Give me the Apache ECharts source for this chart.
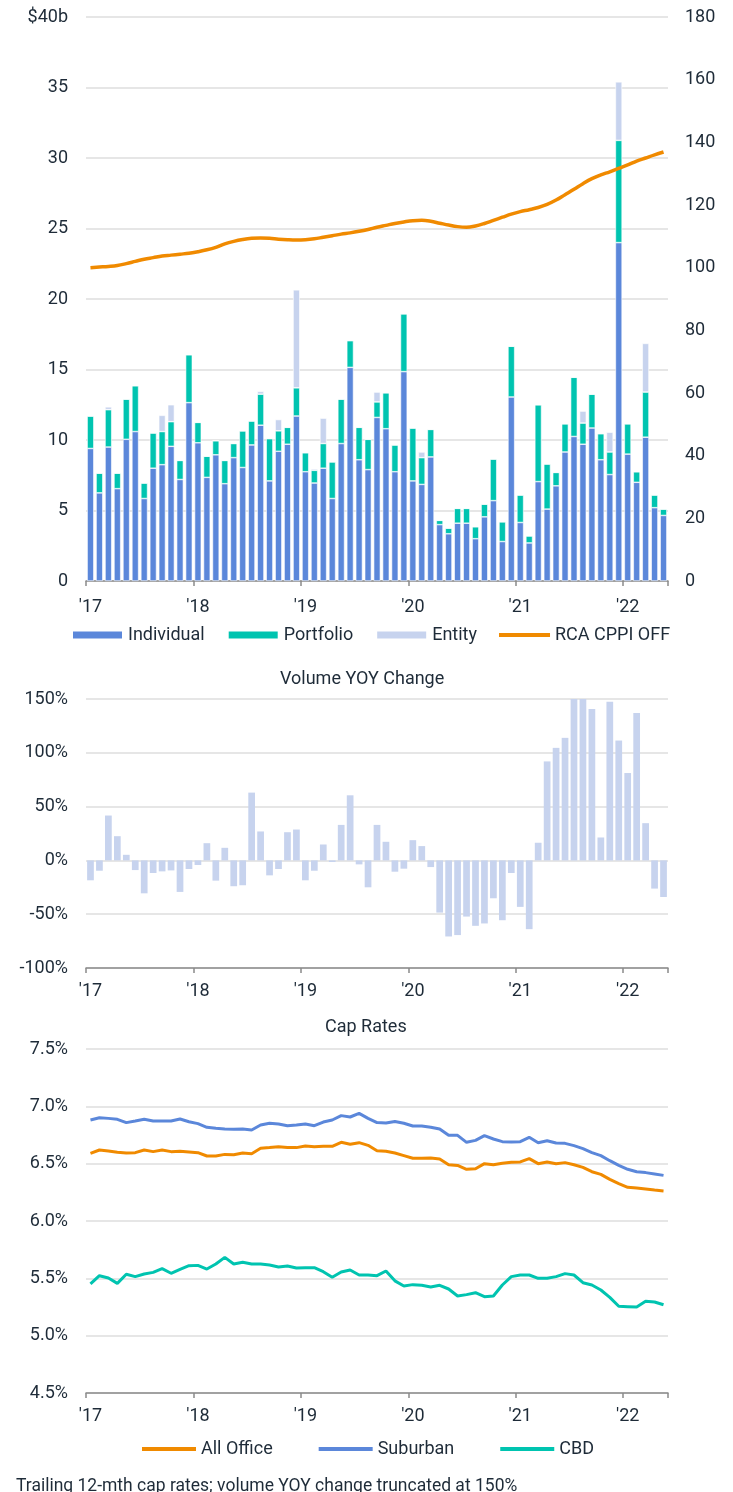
<!DOCTYPE html>
<html><head><meta charset="utf-8">
<script src="https://cdn.jsdelivr.net/npm/echarts@6/dist/echarts.min.js"></script>
<style>html,body{margin:0;padding:0;background:#fff}#c{width:733px;height:1492px}</style>
</head><body><div id="c"></div>
<script>
const months = [
 'Jan 17','Feb 17','Mar 17','Apr 17','May 17','Jun 17','Jul 17','Aug 17','Sep 17','Oct 17','Nov 17','Dec 17',
 'Jan 18','Feb 18','Mar 18','Apr 18','May 18','Jun 18','Jul 18','Aug 18','Sep 18','Oct 18','Nov 18','Dec 18',
 'Jan 19','Feb 19','Mar 19','Apr 19','May 19','Jun 19','Jul 19','Aug 19','Sep 19','Oct 19','Nov 19','Dec 19',
 'Jan 20','Feb 20','Mar 20','Apr 20','May 20','Jun 20','Jul 20','Aug 20','Sep 20','Oct 20','Nov 20','Dec 20',
 'Jan 21','Feb 21','Mar 21','Apr 21','May 21','Jun 21','Jul 21','Aug 21','Sep 21','Oct 21','Nov 21','Dec 21',
 'Jan 22','Feb 22','Mar 22','Apr 22','May 22'];
const yearLabels = ["'17","'18","'19","'20","'21","'22"];

// Deal volume, $b
const individual = [9.4,6.25,9.5,6.55,10.05,10.6,5.85,8.0,8.25,9.55,7.2,12.65,
 9.8,7.35,8.95,6.9,8.75,8.05,9.65,11.05,7.1,9.2,9.7,11.7,
 7.75,6.95,8.0,5.85,9.75,15.15,8.6,7.9,11.6,10.8,7.75,14.85,
 7.1,6.85,8.8,4.0,3.35,4.1,4.1,3.0,4.55,5.7,2.8,13.05,
 4.15,2.7,7.05,5.1,6.75,9.15,10.25,9.7,10.85,8.6,7.55,24.0,
 9.0,7.0,10.2,5.2,4.65];
const portfolio = [2.3,1.4,2.65,1.1,2.85,3.25,1.1,2.5,2.35,1.75,1.35,3.4,
 1.45,1.5,1.0,1.65,1.0,2.6,1.7,2.2,3.0,1.45,1.2,2.0,
 1.35,0.9,1.75,2.6,3.15,1.9,2.3,2.15,1.1,2.55,1.9,4.1,
 3.75,1.9,1.95,0.3,0.4,1.05,1.05,0.85,0.9,2.95,1.4,3.6,
 1.95,0.5,5.45,3.2,0.95,2.0,4.2,1.5,2.4,1.85,1.6,7.25,
 2.15,0.75,3.2,0.9,0.45];
const entity = [0,0,0.2,0,0,0,0,0,1.15,1.2,0,0,
 0,0,0,0,0,0,0,0.2,0,0.8,0,6.95,
 0,0.1,1.8,0,0,0,0,0,0.7,0,0,0,
 0,0.4,0,0,0,0,0,0,0,0,0,0,
 0,0,0,0,0,0,0,0.85,0,0,1.4,4.15,
 0,0,3.45,0,0];
// RCA CPPI Office index
const cppi = [100.0,100.2,100.4,100.7,101.3,102.0,102.7,103.2,103.7,104.0,104.3,104.6,
 105.1,105.7,106.5,107.6,108.4,109.0,109.4,109.5,109.4,109.1,108.9,108.8,
 108.9,109.2,109.7,110.2,110.7,111.1,111.6,112.2,112.9,113.5,114.1,114.6,
 115.0,115.1,114.8,114.2,113.6,113.1,112.9,113.3,114.1,115.1,116.1,117.1,
 117.9,118.5,119.2,120.2,121.6,123.3,125.0,126.8,128.4,129.6,130.6,131.7,
 132.8,134.0,135.0,136.0,136.9];
// Volume YOY change, % (truncated at 150)
const yoy = [-18.5,-9.6,41.7,22.5,5.2,-9,-30.6,-11.7,-10.2,-9.3,-29.3,-8,
 -4.3,16,-18.8,11.7,-24,-23.1,63,26.9,-13.9,-8,26.2,28.7,
 -18.5,-9.6,14.8,-1.5,33,60.5,-3.7,-25,33,17.3,-10.5,-7.7,
 18.8,13.3,-6.2,-48.5,-70.7,-69.4,-52.2,-60.8,-58.6,-35.2,-55.6,-11.7,
 -43.2,-63.9,16.4,92,104.6,113.9,150,150,140.7,21.3,147.5,111.4,
 81.2,137,34.6,-26.2,-34];
// Trailing 12-month cap rates, %
const allOffice = [6.59,6.619,6.61,6.599,6.593,6.596,6.619,6.605,6.619,6.605,6.608,6.602,
 6.596,6.567,6.567,6.581,6.578,6.593,6.587,6.634,6.64,6.648,6.64,6.64,
 6.654,6.648,6.651,6.651,6.686,6.669,6.683,6.66,6.612,6.609,6.593,6.57,
 6.547,6.547,6.549,6.541,6.491,6.485,6.451,6.456,6.5,6.491,6.503,6.512,
 6.515,6.544,6.5,6.515,6.5,6.509,6.491,6.468,6.43,6.407,6.363,6.326,
 6.294,6.288,6.279,6.27,6.262];
const suburban = [6.881,6.901,6.895,6.887,6.858,6.872,6.887,6.872,6.872,6.872,6.89,6.866,
 6.849,6.817,6.808,6.802,6.8,6.802,6.794,6.837,6.852,6.846,6.831,6.837,
 6.846,6.831,6.863,6.881,6.919,6.907,6.939,6.895,6.858,6.855,6.868,6.852,
 6.828,6.828,6.817,6.802,6.747,6.747,6.686,6.703,6.744,6.715,6.692,6.689,
 6.692,6.73,6.683,6.7,6.68,6.677,6.657,6.631,6.596,6.57,6.526,6.485,
 6.451,6.43,6.422,6.41,6.398];
const cbd = [5.451,5.523,5.503,5.456,5.535,5.515,5.538,5.552,5.584,5.544,5.578,5.61,
 5.613,5.581,5.625,5.683,5.625,5.64,5.625,5.625,5.616,5.599,5.608,5.59,
 5.593,5.593,5.558,5.509,5.555,5.573,5.529,5.529,5.523,5.564,5.478,5.433,
 5.445,5.439,5.424,5.439,5.407,5.346,5.358,5.375,5.34,5.346,5.442,5.515,
 5.529,5.529,5.5,5.5,5.515,5.541,5.529,5.462,5.442,5.398,5.334,5.256,
 5.253,5.25,5.3,5.294,5.27];

const COL = {ind:'#5B87DA', port:'#00C4B0', ent:'#C7D3EE', orange:'#F08A00',
  text:'#1E2B38', grid:'#DEDEDE', axis:'#8A8A8A'};
const FONT = 'Roboto';
const LINE_ICON = 'path://M0,0H54V4H0Z';
const lbl = (extra) => Object.assign({color: COL.text, fontSize: 18, fontFamily: FONT}, extra || {});
const yearFmt = (v, i) => yearLabels[Math.round(i / 12)] || '';

function catAxis(grid, opts) {
  return Object.assign({
    type: 'category', gridIndex: grid, data: months, boundaryGap: true,
    axisLine: {show: true, onZero: false, lineStyle: {color: COL.axis, width: 1.5}},
    axisTick: {show: true, interval: 11, length: 5, lineStyle: {color: COL.axis, width: 1.5}},
    axisLabel: lbl({interval: 11, formatter: yearFmt, margin: 14}),
    splitLine: {show: false}
  }, opts);
}

const chart = echarts.init(document.getElementById('c'), null, {renderer: 'canvas'});
chart.setOption({
  animation: false,
  backgroundColor: '#fff',
  textStyle: {fontFamily: FONT},
  title: [
    {text: 'Volume YOY Change', left: 275, top: 665, textStyle: lbl({fontWeight: 'normal'})},
    {text: 'Cap Rates', left: 320, top: 1013, textStyle: lbl({fontWeight: 'normal'})}
  ],
  legend: [
    {left: 66, top: 621, itemWidth: 51, itemHeight: 9, itemGap: 22, symbolKeepAspect: true, textStyle: lbl(),
     data: [{name: 'Individual', icon: 'rect'}, {name: 'Portfolio', icon: 'rect'},
            {name: 'Entity', icon: 'rect'}, {name: 'RCA CPPI OFF', icon: LINE_ICON}]},
    {left: 137, top: 1435, itemWidth: 54, itemHeight: 9, itemGap: 46, symbolKeepAspect: true, textStyle: lbl(),
     data: [{name: 'All Office', icon: LINE_ICON}, {name: 'Suburban', icon: LINE_ICON}, {name: 'CBD', icon: LINE_ICON}]}
  ],
  grid: [
    {left: 86, width: 582, top: 17, height: 564},
    {left: 86, width: 582, top: 699, height: 269},
    {left: 86, width: 582, top: 1049, height: 344}
  ],
  xAxis: [
    catAxis(0, {axisLabel: lbl({interval: 11, formatter: yearFmt, margin: 17})}),
    catAxis(1, {axisLine: {show: false}, axisTick: {show: false}}),
    catAxis(1, {position: 'bottom', axisLine: {show: true, onZero: true, lineStyle: {color: COL.axis, width: 1.5}},
                axisLabel: {show: false}}),
    catAxis(2, {})
  ],
  yAxis: [
    {type: 'value', gridIndex: 0, min: 0, max: 40, interval: 5, position: 'left',
     axisLine: {show: false}, axisTick: {show: false},
     splitLine: {lineStyle: {color: COL.grid, width: 1.5}},
     axisLabel: lbl({margin: 18, formatter: v => v === 40 ? '$40b' : String(v)})},
    {type: 'value', gridIndex: 0, min: 0, max: 180, interval: 20, position: 'right',
     axisLine: {show: false}, axisTick: {show: false}, splitLine: {show: false},
     axisLabel: lbl({margin: 17})},
    {type: 'value', gridIndex: 1, min: -100, max: 150, interval: 50,
     axisLine: {show: false}, axisTick: {show: false},
     splitLine: {lineStyle: {color: COL.grid, width: 1.5}},
     axisLabel: lbl({margin: 18, formatter: v => v + '%'})},
    {type: 'value', gridIndex: 2, min: 4.5, max: 7.5, interval: 0.5,
     axisLine: {show: false}, axisTick: {show: false},
     splitLine: {lineStyle: {color: COL.grid, width: 1.5}},
     axisLabel: lbl({margin: 18, formatter: v => v.toFixed(1) + '%'})}
  ],
  series: [
    {name: 'Individual', type: 'bar', stack: 'vol', xAxisIndex: 0, yAxisIndex: 0, data: individual,
     barCategoryGap: '25%', itemStyle: {color: COL.ind, borderColor: '#fff', borderWidth: 0.6}},
    {name: 'Portfolio', type: 'bar', stack: 'vol', xAxisIndex: 0, yAxisIndex: 0, data: portfolio,
     itemStyle: {color: COL.port, borderColor: '#fff', borderWidth: 0.6}},
    {name: 'Entity', type: 'bar', stack: 'vol', xAxisIndex: 0, yAxisIndex: 0, data: entity,
     itemStyle: {color: COL.ent, borderColor: '#fff', borderWidth: 0.6}},
    {name: 'RCA CPPI OFF', type: 'line', xAxisIndex: 0, yAxisIndex: 1, data: cppi, smooth: 0.4,
     symbol: 'none', z: 5, lineStyle: {color: COL.orange, width: 3.5}, itemStyle: {color: COL.orange}},
    {name: 'YOY', type: 'bar', xAxisIndex: 1, yAxisIndex: 2, data: yoy, barCategoryGap: '25%',
     itemStyle: {color: COL.ent}},
    {name: 'All Office', type: 'line', xAxisIndex: 3, yAxisIndex: 3, data: allOffice, symbol: 'none',
     lineStyle: {color: COL.orange, width: 3}, itemStyle: {color: COL.orange}},
    {name: 'Suburban', type: 'line', xAxisIndex: 3, yAxisIndex: 3, data: suburban, symbol: 'none',
     lineStyle: {color: COL.ind, width: 3}, itemStyle: {color: COL.ind}},
    {name: 'CBD', type: 'line', xAxisIndex: 3, yAxisIndex: 3, data: cbd, symbol: 'none',
     lineStyle: {color: COL.port, width: 3}, itemStyle: {color: COL.port}}
  ],
  graphic: [
    {type: 'text', left: 16, top: 1478,
     style: {text: 'Trailing 12-mth cap rates; volume YOY change truncated at 150%',
             fill: COL.text, fontSize: 17.5, fontFamily: FONT}}
  ]
});
</script></body></html>
